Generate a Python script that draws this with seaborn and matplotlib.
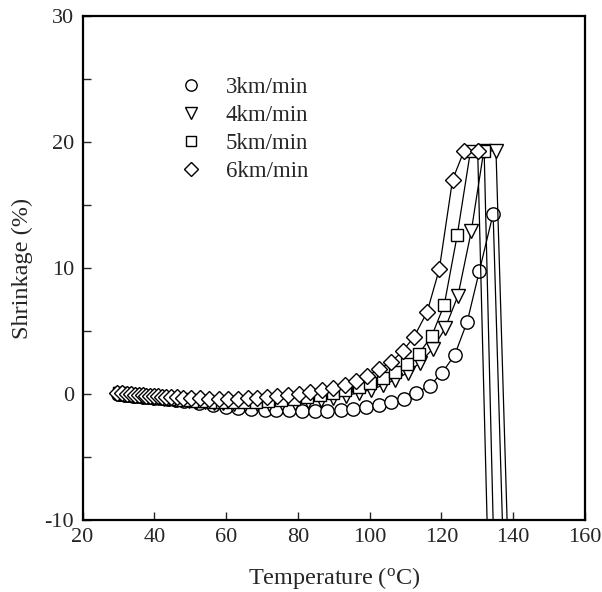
import numpy as np
import pandas as pd
import seaborn as sns
import matplotlib
matplotlib.use("Agg")
import matplotlib.pyplot as plt
from matplotlib.lines import Line2D

# ---- data ----
labels = ["3km/min", "4km/min", "5km/min", "6km/min"]

t3 = [29.8, 30.8, 31.9, 33.0, 34.2, 35.5, 36.9, 38.4, 40.0, 41.8,
      43.8, 46.0, 48.3, 52.4, 56.3, 60.1, 63.3, 67.0, 70.8, 74.0,
      77.4, 81.1, 84.7, 88.2, 91.9, 95.3, 99.1, 102.6, 106.0, 109.5,
      113.0, 116.7, 120.1, 123.7, 127.2, 130.6, 134.4, 139.1]
s3 = [0.0, -0.03, -0.06, -0.09, -0.12, -0.16, -0.2, -0.25, -0.3, -0.35,
      -0.4, -0.47, -0.55, -0.7, -0.85, -1.0, -1.1, -1.2, -1.25, -1.3,
      -1.3, -1.35, -1.35, -1.35, -1.3, -1.2, -1.05, -0.9, -0.65, -0.4,
      0.1, 0.65, 1.65, 3.1, 5.75, 9.8, 14.3, -30]

t4 = [30.4, 31.7, 33.0, 34.3, 35.6, 36.9, 38.2, 39.6, 41.1, 42.6,
      44.2, 45.9, 47.7, 49.6, 51.7, 54.0, 56.5, 59.2, 62.1, 65.2,
      68.5, 72.0, 75.6, 79.2, 82.8, 86.4, 89.9, 93.4, 96.9, 100.4,
      103.8, 107.2, 110.6, 114.1, 117.6, 121.0, 124.6, 128.3, 131.8, 135.2,
      140.4]
s4 = [0.0, -0.04, -0.08, -0.12, -0.16, -0.2, -0.24, -0.28, -0.32, -0.36,
      -0.4, -0.45, -0.5, -0.55, -0.6, -0.65, -0.7, -0.75, -0.8, -0.82,
      -0.82, -0.8, -0.75, -0.68, -0.58, -0.45, -0.3, -0.12, 0.1, 0.35,
      0.7, 1.15, 1.7, 2.5, 3.6, 5.2, 7.8, 12.9, 19.3, 19.3,
      -30]

t5 = [30.2, 31.5, 32.8, 34.1, 35.4, 36.7, 38.0, 39.4, 40.9, 42.4,
      44.0, 45.7, 47.5, 49.4, 51.5, 53.8, 56.3, 59.0, 61.9, 65.0,
      68.3, 71.8, 75.4, 79.0, 82.6, 86.2, 89.7, 93.2, 96.9, 100.2,
      103.6, 107.1, 110.3, 113.7, 117.3, 120.8, 124.4, 128.1, 131.9, 136.1]
s5 = [0.05, 0.0, -0.04, -0.08, -0.12, -0.16, -0.2, -0.24, -0.28, -0.32,
      -0.36, -0.4, -0.44, -0.48, -0.52, -0.56, -0.6, -0.62, -0.64, -0.64,
      -0.62, -0.58, -0.5, -0.4, -0.27, -0.1, 0.1, 0.3, 0.55, 0.9,
      1.25, 1.75, 2.35, 3.2, 4.6, 7.1, 12.6, 19.3, 19.3, -30]

t6 = [29.6, 31.0, 32.3, 33.6, 34.6, 35.7, 36.8, 37.8, 38.9, 40.0,
      41.1, 42.1, 43.2, 44.6, 46.2, 48.1, 50.2, 52.6, 55.3, 57.9,
      60.6, 63.3, 66.0, 68.6, 71.3, 74.2, 77.2, 80.2, 83.4, 86.6,
      89.8, 93.0, 96.2, 99.4, 102.6, 106.0, 109.2, 112.4, 116.0, 119.4,
      123.1, 126.3, 130.1, 134.5]
s6 = [0.1, 0.05, 0.0, -0.02, -0.05, -0.07, -0.1, -0.12, -0.14, -0.16,
      -0.18, -0.2, -0.22, -0.25, -0.27, -0.3, -0.32, -0.34, -0.36, -0.37,
      -0.37, -0.36, -0.33, -0.29, -0.24, -0.17, -0.08, 0.02, 0.15, 0.3,
      0.5, 0.75, 1.05, 1.45, 1.95, 2.55, 3.4, 4.55, 6.5, 9.9,
      17.0, 19.3, 19.3, -30]

x_ticks = [20, 40, 60, 80, 100, 120, 140, 160]
y_ticks = [-10, 0, 10, 20, 30]

series = [(t3, s3, "o", 9.6), (t4, s4, "v", 10.0), (t5, s5, "s", 8.4), (t6, s6, "D", 8.4)]

# ---- style ----
sns.set_style("white")
plt.rcParams["font.family"] = ["Liberation Serif", "DejaVu Serif"]
plt.rcParams["mathtext.fontset"] = "custom"
plt.rcParams["mathtext.rm"] = "Liberation Serif"
plt.rcParams["axes.unicode_minus"] = False

fig = plt.figure(figsize=(6.02, 5.92), dpi=100)
ax = fig.add_axes([82.5 / 602, 72 / 592, 502.5 / 602, 504 / 592])

for (t, s, m, ms), lab in zip(series, labels):
    df = pd.DataFrame({"T": t, "S": s})
    sns.lineplot(data=df, x="T", y="S", ax=ax, sort=False, estimator=None,
                 color="black", linewidth=0.9, marker=m, markersize=ms,
                 markerfacecolor="white", markeredgecolor="black",
                 markeredgewidth=1.0, clip_on=True)

ax.set_xlim(20, 160)
ax.set_ylim(-10, 30)
ax.set_xticks(x_ticks)
ax.set_yticks(y_ticks)
ax.set_yticks([-5, 5, 15, 25], minor=True)
ax.tick_params(axis="both", which="both", direction="in", length=6, width=1,
               labelsize=16, left=True, bottom=True, top=False, right=False)
ax.tick_params(axis="x", pad=6)
ax.tick_params(axis="y", pad=6)
for sp in ax.spines.values():
    sp.set_linewidth(1.6)
    sp.set_color("black")

ax.set_xlabel(r"Temperature ($\mathregular{^{o}}$C)", fontsize=17.5, labelpad=13)
ax.set_ylabel("Shrinkage (%)", fontsize=17.5, labelpad=8)

handles = [Line2D([], [], linestyle="None", marker=m, markersize=ms * 0.85,
                  markerfacecolor="white", markeredgecolor="black", markeredgewidth=1.0)
           for (_, _, m, ms) in series]
ax.legend(handles, labels, loc="upper left", bbox_to_anchor=(0.194, 0.880),
          frameon=False, fontsize=16.5, handlelength=1.0, handletextpad=1.0,
          labelspacing=0.31, borderpad=0, borderaxespad=0)

fig.savefig("out.png", dpi=100)
